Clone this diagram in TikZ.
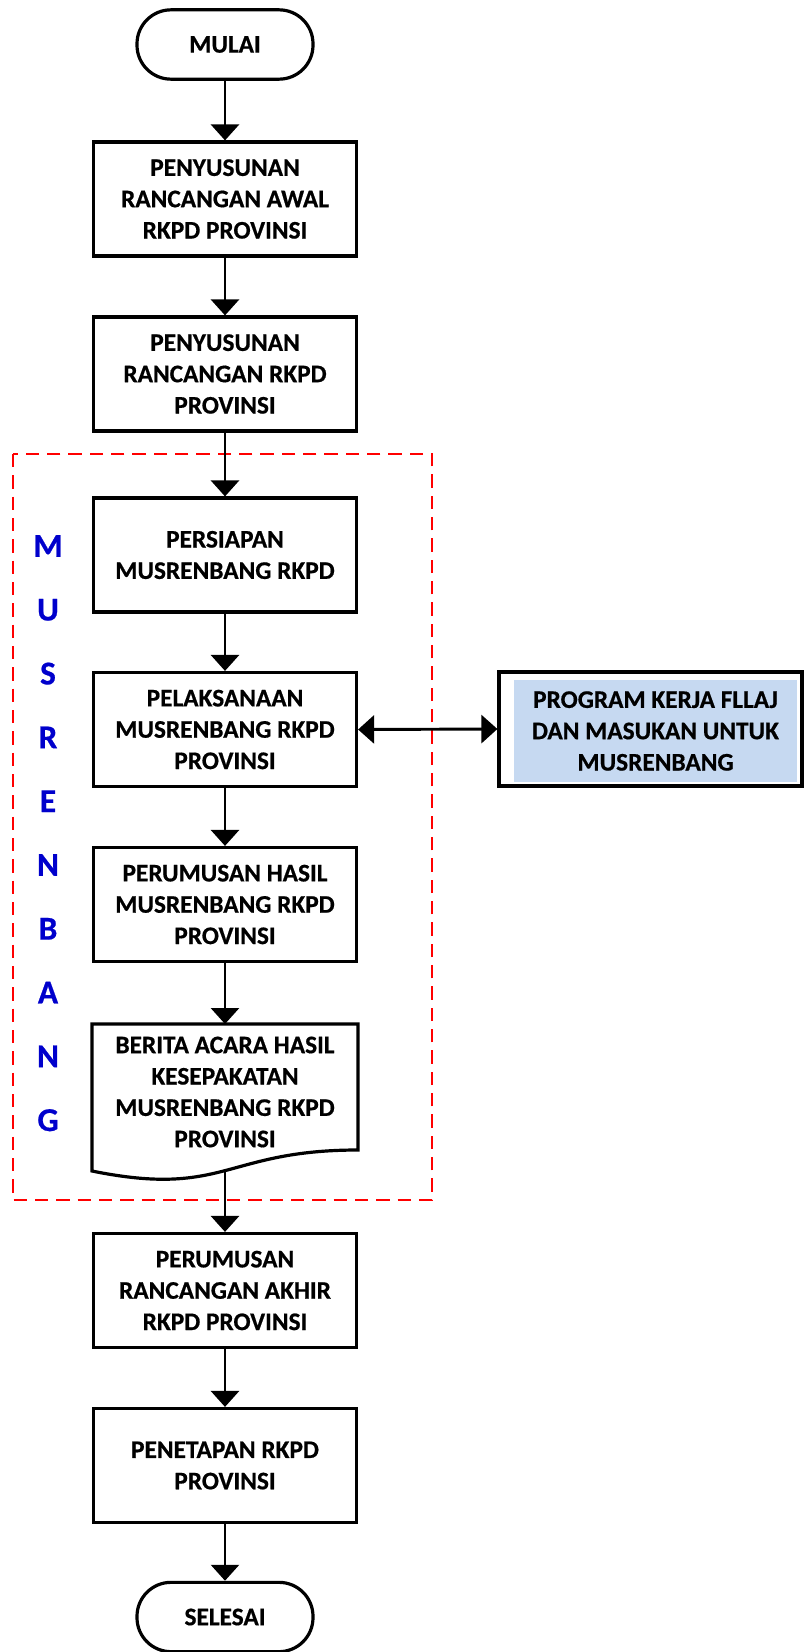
\documentclass[tikz,border=0pt]{standalone}
\usepackage{fontspec}
\setmainfont{Carlito}[BoldFont={Carlito Bold},BoldFeatures={FakeBold=0.6}]
\usetikzlibrary{arrows.meta}
\definecolor{hl}{HTML}{C6D9F1}
\definecolor{mblue}{HTML}{0000CC}
\definecolor{mred}{HTML}{FF0000}
\begin{document}
\begin{tikzpicture}[x=0.75pt,y=-0.75pt,
  txt/.style={font=\fontsize{19}{23.5}\selectfont\bfseries, align=center, inner sep=0pt},
  box/.style={txt, draw, line width=2.4pt, minimum width=197.25pt, minimum height=85.5pt},
  term/.style={txt, draw, line width=2.4pt, rounded corners=25.5pt, minimum width=132pt, minimum height=52pt},
  arr/.style={line width=2.2pt, -{Triangle[length=12pt,width=21pt]}},
  darr/.style={line width=2.2pt, {Triangle[length=12pt,width=21pt]}-{Triangle[length=12pt,width=21pt]}},
  letter/.style={font=\fontsize{25}{30}\selectfont\bfseries, text=mblue, inner sep=0pt}]
\useasboundingbox (0,0) rectangle (804,1652);
% dashed frame
\draw[mred, line width=1.5pt, dash pattern=on 10pt off 6pt] (13,454) rectangle (432,1200);
\foreach \l [count=\i] in {M,U,S,R,E,N,B,A,N,G}
  \node[letter] (L\i) at (48,{546+63.8*(\i-1)}) {\l};
% nodes
\node[term] (mulai) at (225,44.5) {MULAI};
\node[box] (b1) at (225,199) {PENYUSUNAN\\RANCANGAN AWAL\\RKPD PROVINSI};
\node[box] (b2) at (225,374) {PENYUSUNAN\\RANCANGAN RKPD\\PROVINSI};
\node[box] (b3) at (225,555) {PERSIAPAN\\MUSRENBANG RKPD};
\node[box] (b4) at (225,729.5) {PELAKSANAAN\\MUSRENBANG RKPD\\PROVINSI};
\node[box] (b5) at (225,904.5) {PERUMUSAN HASIL\\MUSRENBANG RKPD\\PROVINSI};
% document shape
\draw[line width=2.4pt] (92,1024) -- (358,1024) -- (358,1150)
  .. controls (225,1150) and (225,1198) .. (92,1171) -- cycle;
\node[txt] (doc) at (225,1092) {BERITA ACARA HASIL\\KESEPAKATAN\\MUSRENBANG RKPD\\PROVINSI};
\coordinate (docbot) at (225,1170.5);
\node[box] (b7) at (225,1290.5) {PERUMUSAN\\RANCANGAN AKHIR\\RKPD PROVINSI};
\node[box] (b8) at (225,1465.5) {PENETAPAN RKPD\\PROVINSI};
\node[term] (selesai) at (225,1617) {SELESAI};
% right box
\node[draw, line width=2.4pt, minimum width=227.25pt, minimum height=85.5pt, inner sep=0pt] (fllaj) at (650.5,729) {};
\node[txt, fill=hl, minimum width=212.25pt, minimum height=76.5pt] (flltxt) at (655.5,731) {PROGRAM KERJA FLLAJ\\DAN MASUKAN UNTUK\\MUSRENBANG};
% connectors
\draw[arr] (mulai) -- (b1);
\draw[arr] (b1) -- (b2);
\draw[arr] (b2) -- (b3);
\draw[arr] (b3) -- (b4);
\draw[arr] (b4) -- (b5);
\draw[arr] (b5.south) -- (225,1024);
\draw[arr] (docbot) -- (b7);
\draw[arr] (b7) -- (b8);
\draw[arr] (b8) -- (selesai);
\draw[darr] (b4.east) -- (fllaj.west);
\end{tikzpicture}
\end{document}
